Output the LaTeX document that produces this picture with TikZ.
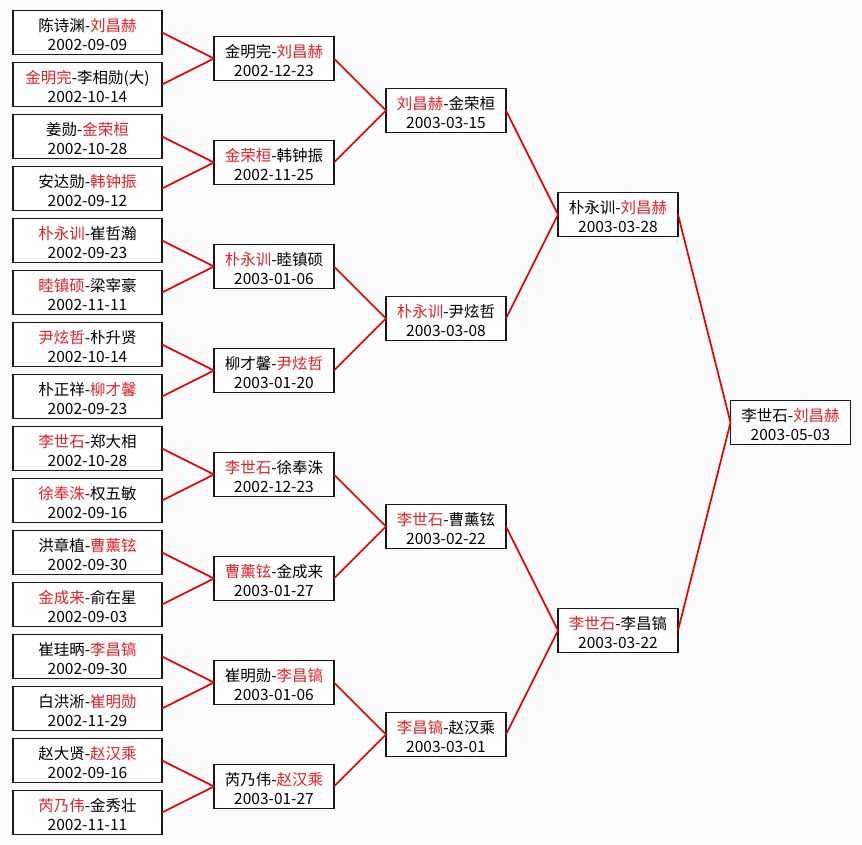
\documentclass[tikz,border=0pt]{standalone}
\usepackage{fontspec}
\setmainfont{Noto Sans CJK SC}
\usetikzlibrary{positioning}
\definecolor{winred}{RGB}{228,32,40}
\definecolor{linkred}{RGB}{232,0,0}
\definecolor{paper}{RGB}{251,251,251}
\tikzstyle{bracket}=[
    x=1pt,y=-1pt,node distance=8pt,
    every node/.style={
        draw=black!90,fill=white,line width=1.9pt,align=center,
        inner sep=0pt,outer sep=0pt,minimum height=44pt,minimum width=120pt,
        font=\fontsize{15.5}{18.5}\selectfont,
    }]
\tikzstyle{first round}=[minimum width=149pt]
\tikzstyle{link}=[draw=linkred,line width=1.7pt]
\newcommand{\win}[1]{\textcolor{winred}{#1}}
\newcommand{\game}[2]{\rule{0pt}{17pt}#1\\#2}

\begin{document}
\begin{tikzpicture}[bracket]
        \fill[paper] (0,0) rectangle (862,845);
        % first round
        \node[first round] (r1a) at (87.5,32.5) {\game{陈诗渊-\win{刘昌赫}}{2002-09-09}};
        \node[first round, below=of r1a] (r1b) {\game{\win{金明完}-李相勋(大)}{2002-10-14}};
        \node[first round, below=of r1b] (r1c) {\game{姜勋-\win{金荣桓}}{2002-10-28}};
        \node[first round, below=of r1c] (r1d) {\game{安达勋-\win{韩钟振}}{2002-09-12}};
        \node[first round, below=of r1d] (r1e) {\game{\win{朴永训}-崔哲瀚}{2002-09-23}};
        \node[first round, below=of r1e] (r1f) {\game{\win{睦镇硕}-梁宰豪}{2002-11-11}};
        \node[first round, below=of r1f] (r1g) {\game{\win{尹炫哲}-朴升贤}{2002-10-14}};
        \node[first round, below=of r1g] (r1h) {\game{朴正祥-\win{柳才馨}}{2002-09-23}};
        \node[first round, below=of r1h] (r1i) {\game{\win{李世石}-郑大相}{2002-10-28}};
        \node[first round, below=of r1i] (r1j) {\game{\win{徐奉洙}-权五敏}{2002-09-16}};
        \node[first round, below=of r1j] (r1k) {\game{洪章植-\win{曹薰铉}}{2002-09-30}};
        \node[first round, below=of r1k] (r1l) {\game{\win{金成来}-俞在星}{2002-09-03}};
        \node[first round, below=of r1l] (r1m) {\game{崔珪昞-\win{李昌镐}}{2002-09-30}};
        \node[first round, below=of r1m] (r1n) {\game{白洪淅-\win{崔明勋}}{2002-11-29}};
        \node[first round, below=of r1n] (r1o) {\game{赵大贤-\win{赵汉乘}}{2002-09-16}};
        \node[first round, below=of r1o] (r1p) {\game{\win{芮乃伟}-金秀壮}{2002-11-11}};
        % second round
        \node (r2a) at (274,58.5) {\game{金明完-\win{刘昌赫}}{2002-12-23}};
        \node (r2b) at (274,162.5) {\game{\win{金荣桓}-韩钟振}{2002-11-25}};
        \node (r2c) at (274,266.5) {\game{\win{朴永训}-睦镇硕}{2003-01-06}};
        \node (r2d) at (274,370.5) {\game{柳才馨-\win{尹炫哲}}{2003-01-20}};
        \node (r2e) at (274,474.5) {\game{\win{李世石}-徐奉洙}{2002-12-23}};
        \node (r2f) at (274,578.5) {\game{\win{曹薰铉}-金成来}{2003-01-27}};
        \node (r2g) at (274,682.5) {\game{崔明勋-\win{李昌镐}}{2003-01-06}};
        \node (r2h) at (274,786.5) {\game{芮乃伟-\win{赵汉乘}}{2003-01-27}};
        % quarter finals
        \node (r3a) at (446,110.5) {\game{\win{刘昌赫}-金荣桓}{2003-03-15}};
        \node (r3b) at (446,318.5) {\game{\win{朴永训}-尹炫哲}{2003-03-08}};
        \node (r3c) at (446,526.5) {\game{\win{李世石}-曹薰铉}{2003-02-22}};
        \node (r3d) at (446,734.5) {\game{\win{李昌镐}-赵汉乘}{2003-03-01}};
        % semi finals and final
        \node (r4a) at (618,214.5) {\game{朴永训-\win{刘昌赫}}{2003-03-28}};
        \node (r4b) at (618,630.5) {\game{\win{李世石}-李昌镐}{2003-03-22}};
        \node (r5) at (790.5,422.5) {\game{李世石-\win{刘昌赫}}{2003-05-03}};

        \path[link]
            (r1a.east) edge (r2a.west) (r1b.east) edge (r2a.west)
            (r1c.east) edge (r2b.west) (r1d.east) edge (r2b.west)
            (r1e.east) edge (r2c.west) (r1f.east) edge (r2c.west)
            (r1g.east) edge (r2d.west) (r1h.east) edge (r2d.west)
            (r1i.east) edge (r2e.west) (r1j.east) edge (r2e.west)
            (r1k.east) edge (r2f.west) (r1l.east) edge (r2f.west)
            (r1m.east) edge (r2g.west) (r1n.east) edge (r2g.west)
            (r1o.east) edge (r2h.west) (r1p.east) edge (r2h.west)
            (r2a.east) edge (r3a.west) (r2b.east) edge (r3a.west)
            (r2c.east) edge (r3b.west) (r2d.east) edge (r3b.west)
            (r2e.east) edge (r3c.west) (r2f.east) edge (r3c.west)
            (r2g.east) edge (r3d.west) (r2h.east) edge (r3d.west)
            (r3a.east) edge (r4a.west) (r3b.east) edge (r4a.west)
            (r3c.east) edge (r4b.west) (r3d.east) edge (r4b.west)
            (r4a.east) edge (r5.west) (r4b.east) edge (r5.west)
        ;
    \end{tikzpicture}
\end{document}
